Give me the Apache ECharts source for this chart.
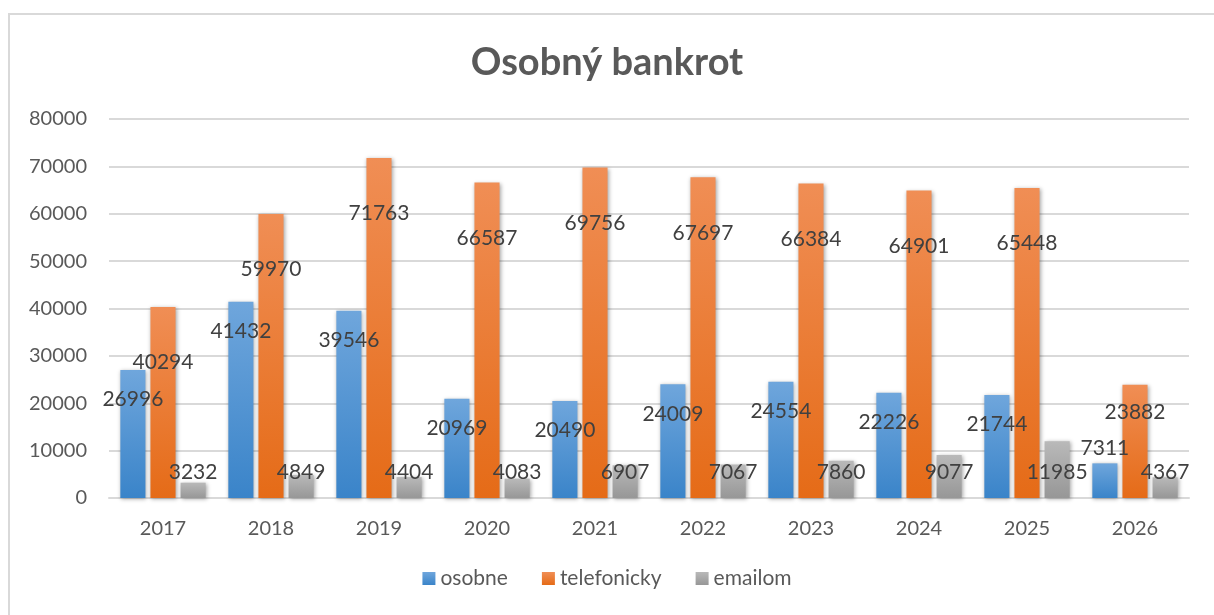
<!DOCTYPE html>
<html>
<head>
<meta charset="utf-8">
<script src="https://cdn.jsdelivr.net/npm/echarts@6/dist/echarts.min.js"></script>
<style>
html,body{margin:0;padding:0;background:#fff;}
#chart{width:1214px;height:615px;}
</style>
</head>
<body>
<div id="chart"></div>
<script>
var categories = ['2017','2018','2019','2020','2021','2022','2023','2024','2025','2026'];
var seriesNames = ['osobne','telefonicky','emailom'];
var osobne = [26996, 41432, 39546, 20969, 20490, 24009, 24554, 22226, 21744, 7311];
var telefonicky = [40294, 59970, 71763, 66587, 69756, 67697, 66384, 64901, 65448, 23882];
var emailom = [3232, 4849, 4404, 4083, 6907, 7067, 7860, 9077, 11985, 4367];
var yTicks = { min: 0, max: 80000, interval: 10000 };

var FONT = 'Lato, "Liberation Sans", sans-serif';

function grad(top, bottom) {
  return new echarts.graphic.LinearGradient(0, 0, 0, 1, [
    { offset: 0, color: top }, { offset: 1, color: bottom }
  ]);
}

function labelCfg(pos, offset) {
  return {
    show: true, position: pos, offset: offset,
    color: '#404040', fontSize: 21, fontFamily: FONT
  };
}

// short bars: osobne label goes above the bar, telefonicky label sits closer to the top
function osobneItems(values) {
  return values.map(function (v) {
    return v < 15000 ? { value: v, label: { position: 'top', offset: [0, 0] } } : v;
  });
}
function telefonItems(values) {
  return values.map(function (v) {
    return v < 30000 ? { value: v, label: { offset: [0, 12] } } : v;
  });
}

var shadow = { shadowBlur: 4, shadowColor: 'rgba(0,0,0,0.35)', shadowOffsetX: 1, shadowOffsetY: 1 };

var chart = echarts.init(document.getElementById('chart'));
chart.setOption({
  animation: false,
  backgroundColor: '#fff',
  graphic: [{
    type: 'rect', silent: true, z: -1,
    shape: { x: 9, y: 14, width: 1300, height: 700 },
    style: { fill: 'none', stroke: '#d9d9d9', lineWidth: 2 }
  }],
  title: {
    text: 'Osobný bankrot', left: 'center', top: 39,
    textStyle: { fontFamily: FONT, fontSize: 38, fontWeight: 'bold', color: '#595959' }
  },
  legend: {
    bottom: 21, left: 'center', itemWidth: 13, itemHeight: 13, itemGap: 34,
    icon: 'rect',
    textStyle: { fontFamily: FONT, fontSize: 21, color: '#595959' },
    data: seriesNames
  },
  grid: { left: 109, right: 25, top: 119, bottom: 117, containLabel: false },
  xAxis: {
    type: 'category', data: categories,
    axisLine: { lineStyle: { color: '#d9d9d9', width: 2 } },
    axisTick: { show: false },
    axisLabel: { color: '#595959', fontSize: 20, fontFamily: FONT, margin: 21 }
  },
  yAxis: {
    type: 'value', min: yTicks.min, max: yTicks.max, interval: yTicks.interval,
    axisLine: { show: false }, axisTick: { show: false },
    splitLine: { lineStyle: { color: '#d9d9d9', width: 2 } },
    axisLabel: { color: '#595959', fontSize: 20, fontFamily: FONT, margin: 22,
      formatter: function (v) { return String(v); } }
  },
  series: [
    {
      name: seriesNames[0], type: 'bar', data: osobneItems(osobne),
      barGap: '20%', barCategoryGap: '21%',
      itemStyle: Object.assign({ color: grad('#6fa6dc', '#3a84c9') }, shadow),
      label: labelCfg('insideTop', [0, 14])
    },
    {
      name: seriesNames[1], type: 'bar', data: telefonItems(telefonicky),
      itemStyle: Object.assign({ color: grad('#f08e55', '#e56b17') }, shadow),
      label: labelCfg('insideTop', [0, 40])
    },
    {
      name: seriesNames[2], type: 'bar', data: emailom,
      itemStyle: Object.assign({ color: grad('#b9b9b9', '#979797') }, shadow),
      label: labelCfg('insideBottom', [0, -10])
    }
  ]
});
</script>
</body>
</html>
